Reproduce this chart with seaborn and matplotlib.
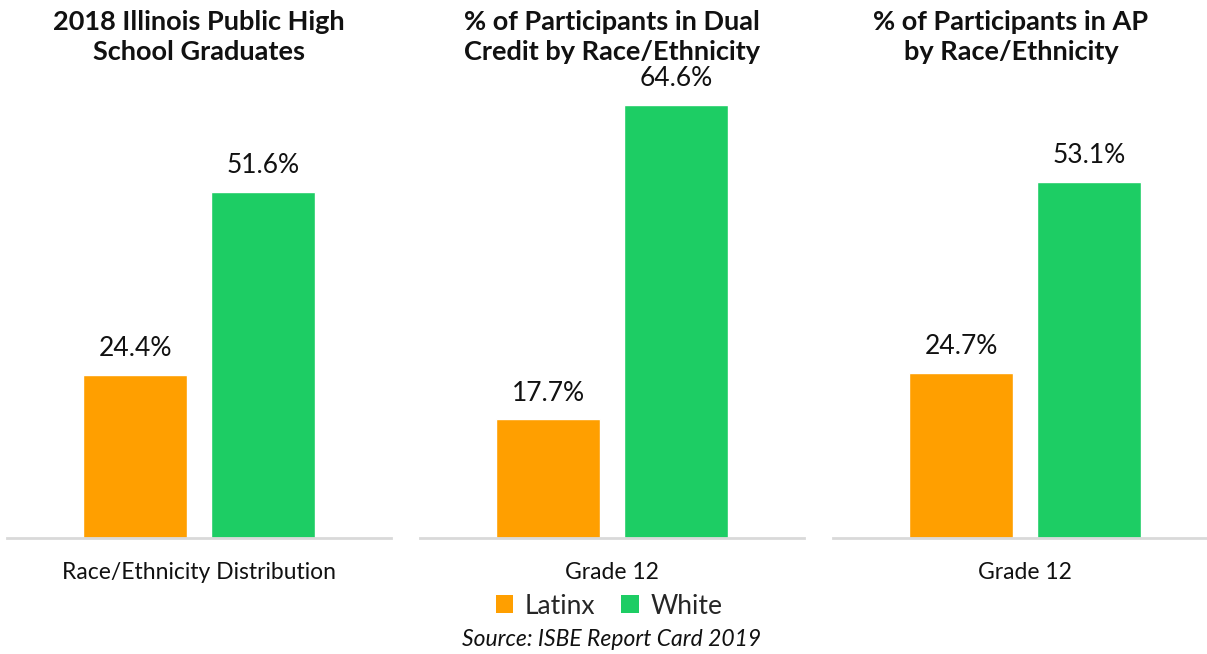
import matplotlib
matplotlib.use('Agg')
import matplotlib.pyplot as plt
from matplotlib.patches import Patch
import pandas as pd
import seaborn as sns

# data
panel_titles = [
    '2018 Illinois Public High\nSchool Graduates',
    '% of Participants in Dual\nCredit by Race/Ethnicity',
    '% of Participants in AP\nby Race/Ethnicity',
]
categories = ['Race/Ethnicity Distribution', 'Grade 12', 'Grade 12']
groups = ['Latinx', 'White']
latinx_values = [24.4, 17.7, 24.7]
white_values = [51.6, 64.6, 53.1]
source_note = 'Source: ISBE Report Card 2019'

colors = {'Latinx': '#FF9F00', 'White': '#1DCD64'}

sns.set_theme(style='white')
plt.rcParams['font.family'] = ['Lato', 'DejaVu Sans']

W, H = 1207, 654
fig = plt.figure(figsize=(W / 100, H / 100), dpi=100)

# axes lefts in px, all same width so bars share the same scale
lefts = [7, 420, 833]
title_x = [199, 612, 1011]
ax_w = 384
bottom = 538
top = 69

for i in range(3):
    df = pd.DataFrame({
        'category': [categories[i]] * 2,
        'group': groups,
        'value': [latinx_values[i], white_values[i]],
    })
    ax = fig.add_axes([lefts[i] / W, (H - bottom) / H, ax_w / W, (bottom - top) / H])
    sns.barplot(data=df, x='category', y='value', hue='group', hue_order=groups,
                palette=colors, width=0.8, gap=0.195, saturation=1,
                legend=False, ax=ax)
    for c in ax.containers:
        ax.bar_label(c, fmt='%.1f%%', padding=10, fontsize=19, color='#111111')
    ax.set_xlim(-0.6, 0.6)
    ax.set_ylim(0, 70)
    ax.set_xlabel('')
    ax.set_ylabel('')
    ax.set_yticks([])
    ax.tick_params(axis='x', length=0, pad=17, labelsize=16.5, labelcolor='#111111')
    for s in ['top', 'left', 'right']:
        ax.spines[s].set_visible(False)
    ax.spines['bottom'].set_color('#D9D9D9')
    ax.spines['bottom'].set_linewidth(2)
    fig.text(title_x[i] / W, 1 - 37 / H, panel_titles[i], ha='center', va='center',
             fontsize=19.5, fontweight='bold', color='#111111', linespacing=1.35)

handles = [Patch(facecolor=colors[g], edgecolor='none', label=g) for g in groups]
fig.legend(handles=handles, loc='center', bbox_to_anchor=(609 / W, 1 - 606 / H),
           ncol=2, frameon=False, fontsize=19, handlelength=0.65, handleheight=0.65,
           handletextpad=0.45, columnspacing=1.0)
fig.text(612 / W, 1 - 640 / H, source_note, ha='center', va='center',
         fontsize=16.5, fontstyle='italic', color='#111111')

fig.savefig('out.png', dpi=100)
